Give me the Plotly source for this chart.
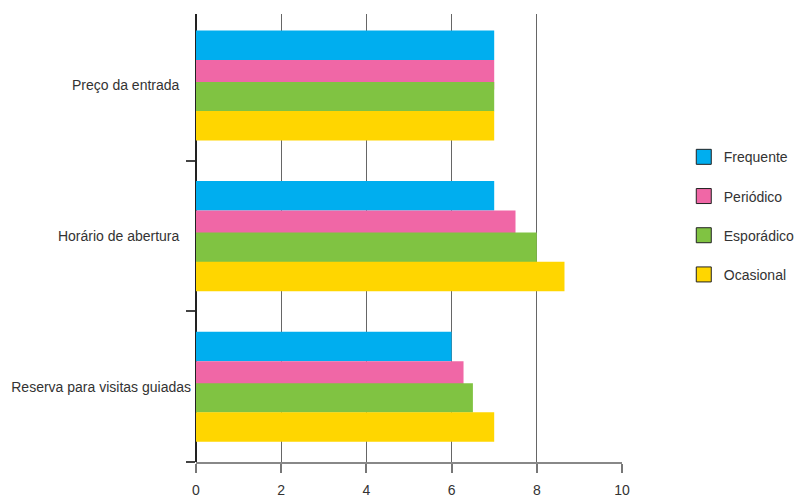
import plotly.graph_objects as go

# Categories (top to bottom) and the score of each visitor profile
categories = ["Preço da entrada", "Horário de abertura", "Reserva para visitas guiadas"]
category_labels = ["Preço da entrada\u00a0\u00a0\u00a0", "Horário de abertura\u00a0\u00a0\u00a0",
                   "Reserva para visitas guiadas"]
series_names = ["Frequente", "Periódico", "Esporádico", "Ocasional"]
frequente = [7.0, 7.0, 6.0]
periodico = [7.0, 7.5, 6.28]
esporadico = [7.0, 8.0, 6.5]
ocasional = [7.0, 8.65, 7.0]
x_ticks = [0, 2, 4, 6, 8, 10]

series_values = [frequente, periodico, esporadico, ocasional]
colors = ["#00AEEF", "#F067A6", "#80C342", "#FFD600"]
# bar placement inside each category band (axis units)
offsets = [-0.365, -0.169, -0.023, 0.170]
widths = [0.196, 0.196, 0.195, 0.196]

font_family = "Liberation Sans, Arial, sans-serif"
text_color = "#333333"
font_size = 14

fig = go.Figure()

for name, vals, col, off, w in zip(series_names, series_values, colors, offsets, widths):
    fig.add_trace(go.Bar(
        y=categories, x=vals, orientation="h", name=name,
        marker=dict(color=col, line=dict(width=0)),
        offset=off, width=w, showlegend=False, hoverinfo="skip",
    ))

# legend entries: outlined squares
for i, (name, col) in enumerate(zip(series_names, colors)):
    fig.add_trace(go.Scatter(
        x=[None], y=[None], mode="markers", name=name,
        legendgroup=f"g{i}",
        marker=dict(symbol="square", size=15, color=col,
                    line=dict(color="#222222", width=1)),
        hoverinfo="skip",
    ))

fig.update_layout(
    width=794, height=500,
    margin=dict(l=196, r=172, t=14, b=38, autoexpand=False),
    paper_bgcolor="white", plot_bgcolor="white",
    barmode="overlay",
    font=dict(family=font_family, size=font_size, color=text_color),
    legend=dict(
        x=1.145, xanchor="left", y=0.716, yanchor="top",
        traceorder="grouped", tracegroupgap=18,
        font=dict(family=font_family, size=font_size, color=text_color),
        bgcolor="rgba(0,0,0,0)", borderwidth=0,
    ),
    showlegend=True,
)

fig.update_xaxes(
    range=[0, 10], tickvals=x_ticks, ticktext=[str(t) for t in x_ticks],
    showgrid=True, gridcolor="#666666", gridwidth=1,
    zeroline=True, zerolinecolor="#222222", zerolinewidth=1.5,
    showline=True, linecolor="#888888", linewidth=1.5,
    ticks="outside", ticklen=9, tickcolor="#777777", tickwidth=1.5,
    ticklabelstandoff=5, automargin=False,
    tickfont=dict(family=font_family, size=font_size, color=text_color),
    fixedrange=True,
)

fig.update_yaxes(
    type="category", categoryorder="array", categoryarray=categories,
    tickmode="array", tickvals=categories, ticktext=category_labels,
    range=[2.5, -0.474],
    showgrid=False, zeroline=False, showline=False,
    ticks="outside", tickson="boundaries", ticklen=9,
    tickcolor="#444444", tickwidth=1.5,
    ticklabelstandoff=4, automargin=False,
    tickfont=dict(family=font_family, size=font_size, color=text_color),
    fixedrange=True,
)

fig.write_html("out.html")
